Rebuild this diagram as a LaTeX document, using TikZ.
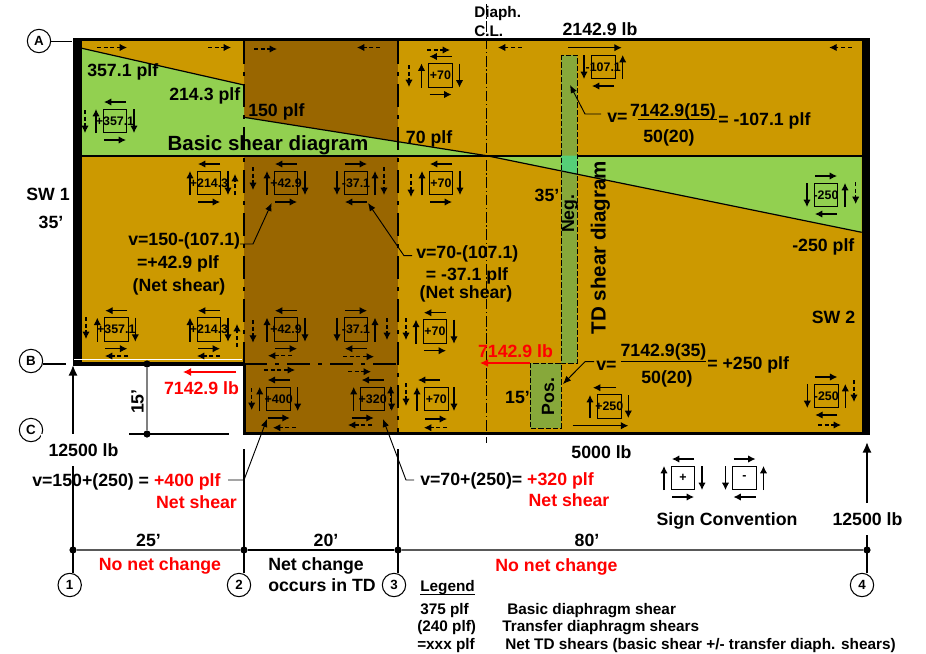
\documentclass[tikz,border=0pt]{standalone}
\usepackage{fontspec}
\setmainfont{Liberation Sans}
\usetikzlibrary{arrows.meta}

\definecolor{gold}{HTML}{CC9900}
\definecolor{brownTD}{HTML}{996600}
\definecolor{greenV}{HTML}{92D050}
\definecolor{colGold}{HTML}{87A83A}
\definecolor{colGreen}{HTML}{55CF78}
\definecolor{redT}{HTML}{FF0000}

\tikzset{
	lbl/.style={font=\fontsize{13.3}{15}\selectfont\bfseries, inner sep=0pt, anchor=mid, yshift=-2pt},
	lblbig/.style={lbl, font=\fontsize{15.4}{17}\selectfont\bfseries},
	lblsmall/.style={lbl, font=\fontsize{11.5}{13}\selectfont\bfseries},
	redlbl/.style={lbl, text=redT},
	gridcirc/.style={circle, draw, line width=0.8pt, fill=white, minimum size=17.5pt, inner sep=0pt, font=\fontsize{10}{11}\selectfont\bfseries},
	griddot/.style={circle, fill=black, minimum size=5.4pt, inner sep=0pt},
	gridline/.style={line width=1.5pt},
	elbox/.style={draw, line width=0.75pt, minimum size=17.6pt, inner sep=0pt},
	ellbl/.style={font=\fontsize{9.3}{10}\selectfont\bfseries, inner sep=0pt},
	shr/.style={-{Latex[length=5.5pt, width=5.5pt]}, line width=0.8pt},
	trf/.style={shr, dash pattern=on 3pt off 2pt},
	leadarr/.style={-{Latex[length=6pt, width=5pt]}, line width=0.7pt},
	tdline/.style={line width=2.2pt, dash pattern=on 17pt off 6.25pt on 2.75pt off 6.25pt},
	clline/.style={line width=0.6pt, dash pattern=on 8pt off 2pt on 1pt off 2pt},
	coldash/.style={line width=0.7pt, dash pattern=on 4pt off 1.5pt}
}

\newcommand{\pluselem}[5][0]{
	\node [elbox] (#2) at (#3,#4) {};
	\node [ellbl] (#2t) at (#3,#4) {#5};
	\draw [shr]	(#3+11,#4-19) to (#3-11,#4-19);
	\draw [shr]	(#3-11+#1,#4+19) to (#3+11+#1,#4+19);
	\draw [shr]	(#3-19,#4+12) to (#3-19,#4-12);
	\draw [shr]	(#3+19,#4-12) to (#3+19,#4+12);
}
\newcommand{\minuselem}[4]{
	\node [elbox] (#1) at (#2,#3) {};
	\node [ellbl] (#1t) at (#2,#3) {#4};
	\draw [shr]	(#2-11,#3-19) to (#2+11,#3-19);
	\draw [shr]	(#2+11,#3+19) to (#2-11,#3+19);
	\draw [shr]	(#2-19,#3-12) to (#2-19,#3+12);
	\draw [shr]	(#2+19,#3+12) to (#2+19,#3-12);
}

\begin{document}
\begin{tikzpicture}[x=0.75pt, y=-0.75pt]
		\useasboundingbox (0, 0) rectangle (926, 654);

		% floor areas
		\fill [gold]	(82, 41) rectangle (244, 363);
		\fill [gold]	(398, 41) rectangle (862, 432);
		\fill [brownTD]	(244, 41) rectangle (398, 432);

		% basic shear diagram
		\fill [greenV]	(82, 48.3) -- (244, 85) -- (244, 155.7) -- (82, 155.7) -- cycle;
		\fill [greenV]	(244, 117.3) -- (398, 141.7) -- (486.7, 155.7) -- (244, 155.7) -- cycle;
		\fill [greenV]	(486.7, 155.7) -- (861.7, 232.3) -- (861.7, 155.7) -- cycle;
		\draw [line width=1.3pt]	(82, 155.7) to (862, 155.7);

		% TD shear diagram
		\fill [colGold]	(561, 55) rectangle (577, 363);
		\fill [colGreen]	(561, 155.7) -- (577, 155.7) -- (577, 174) -- (561, 170.8) -- cycle;
		\fill [colGold]	(530, 363) rectangle (561, 428);
		\draw [coldash]	(561, 55) rectangle (577, 363);
		\draw [coldash]	(530, 363) rectangle (561, 428);

		\draw [line width=0.9pt]	(82, 48.3) to (244, 85);
		\draw [line width=0.9pt]	(244, 117.3) to (398, 141.7) to (486.7, 155.7) to (861.7, 232.3);

		% walls and edges
		\fill	(73, 38) rectangle (870, 41);
		\fill	(73, 38) rectangle (82, 366);
		\fill	(862, 38) rectangle (870, 435);
		\fill	(243, 432) rectangle (870, 435);
		\fill	(73, 362) rectangle (244, 366);
		\fill	(243, 364) rectangle (245.5, 435);
		\draw [white, line width=0.7pt]	(74, 359.3) to (242, 359.3);
		\draw [tdline]	(244, 41) to (244, 364);
		\draw [tdline]	(398, 41) to (398, 432);
		\draw [tdline]	(244, 364) to (398, 364);
		\draw [clline]	(486.7, 4) to (486.7, 443);

		% line A, B, C bubbles
		\node [gridcirc] (lblA) at (39, 41) {A};
		\node [gridcirc] (lblB) at (31, 361) {B};
		\node [gridcirc] (lblC) at (31, 430) {C};
		\coordinate (endA) at (72, 41);
		\coordinate (endB) at (66, 364);
		\draw [line width=0.7pt]	(lblA) to (endA);
		\draw [line width=1.2pt]	(lblB.east |- endB) to (endB);

		% 15 ft dimension
		\node [griddot] (dimB) at (147, 364) {};
		\node [griddot] (dimC) at (147, 434) {};
		\coordinate (lineCa) at (129, 434);
		\coordinate (lineCb) at (229, 434);
		\draw [gray, line width=1pt]	(dimB) to (dimC);
		\draw [line width=1.5pt]	(lineCa) to (lineCb);
		\node [lbl, rotate=90] (dimFt) at (140, 399) {15’};

		% grid lines
		\node [griddot] (dotOne) at (73, 550) {};
		\node [griddot] (dotTwo) at (244, 550) {};
		\node [griddot] (dotThree) at (398, 550) {};
		\node [griddot] (dotFour) at (867, 550) {};
		\coordinate (oneTop) at (73, 365);
		\coordinate (oneEnd) at (73, 573);
		\coordinate (twoTop) at (244, 449);
		\coordinate (twoEnd) at (244, 573);
		\coordinate (threeTop) at (398, 449);
		\coordinate (threeEnd) at (398, 573);
		\coordinate (fourTop) at (867, 535);
		\coordinate (fourEnd) at (867, 573);
		\coordinate (reacTail) at (867, 503);
		\coordinate (reacTip) at (867, 442);
		\draw [gridline, -{Latex[length=8pt, width=7pt]}]	(oneEnd) to (oneTop);
		\draw [gridline]	(twoTop) to (twoEnd);
		\draw [gridline]	(threeTop) to (threeEnd);
		\draw [gridline]	(fourTop) to (fourEnd);
		\draw [gridline, -{Latex[length=8pt, width=7pt]}]	(reacTail) to (reacTip);
		\draw [gray!70!black, line width=0.8pt]	(dotOne) to (dotTwo);
		\draw [line width=1.5pt]	(dotTwo) to (dotThree);
		\draw [gray!70!black, line width=0.8pt]	(dotThree) to (dotFour);
		\node [gridcirc] (gridOne) at (69.7, 585) {1};
		\node [gridcirc] (gridTwo) at (239, 585) {2};
		\node [gridcirc] (gridThree) at (394, 585) {3};
		\node [gridcirc] (gridFour) at (862, 585) {4};

		% shear elements, top row
		\draw [trf]	(97, 47.5) to (127, 47.5);
		\draw [trf]	(208, 47.5) to (231, 47.5);
		\draw [trf]	(254, 49) to (277, 49);
		\draw [trf]	(380, 47.5) to (357, 47.5);
		\draw [trf]	(427, 50) to (450, 50);
		\draw [trf]	(521.7, 47.5) to (498, 47.5);
		\draw [trf]	(851.7, 47.5) to (829.3, 47.5);
		\draw [shr]	(568, 47.7) to (621.7, 47.7);
		\pluselem{elA}{115}{121}{+357.1}
		\draw [trf]	(85, 110) to (85, 133);
		\pluselem{elB}{440.5}{75.5}{+70}
		\draw [trf]	(409, 65) to (409, 87);
		\node [elbox] (elC) at (603.3, 67) {};
		\node [ellbl] (elCt) at (603.3, 67) {-107.1};
		\draw [shr]	(584, 55) to (584, 79);
		\draw [shr]	(622.7, 79) to (622.7, 55);
		\draw [shr]	(614, 86) to (592, 86);

		% shear elements, middle row
		\pluselem{elD}{209}{183}{+214.3}
		\draw [trf]	(235, 195) to (235, 174);
		\pluselem{elE}{286}{183}{+42.9}
		\draw [trf]	(253, 167) to (253, 190);
		\minuselem{elF}{356}{183}{-37.1}
		\draw [trf]	(384, 167) to (384, 195);
		\pluselem{elG}{441}{183}{+70}
		\draw [trf]	(411, 174) to (411, 197);
		\minuselem{elH}{826}{195}{-250}
		\draw [trf]	(855.7, 182) to (855.7, 204);

		% shear elements, row above line B
		\pluselem{elJ}{116.3}{329.7}{+357.1}
		\draw [trf]	(86, 317) to (86, 339);
		\draw [trf]	(128, 356) to (105, 356);
		\pluselem{elK}{209}{329.7}{+214.3}
		\draw [trf]	(237, 346.7) to (237, 324);
		\draw [trf]	(220, 356) to (197, 356);
		\pluselem{elL}{286}{329.7}{+42.9}
		\draw [trf]	(253, 320) to (253, 342.7);
		\draw [trf]	(292, 355.7) to (268, 355.7);
		\minuselem{elM}{356}{329.7}{-37.1}
		\draw [trf]	(387, 318) to (387, 340);
		\draw [trf]	(343, 356.7) to (374, 356.7);
		\pluselem{elN}{435}{331.7}{+70}
		\draw [trf]	(406, 318) to (406, 340);

		% shear elements, row below line B
		\draw [trf]	(264, 370) to (295, 370);
		\draw [trf]	(348, 371.7) to (371, 371.7);
		\pluselem{elP}{278.7}{399}{+400}
		\draw [trf]	(251.7, 388) to (251.7, 410);
		\draw [trf]	(296, 427.7) to (273, 427.7);
		\pluselem[-10]{elQ}{372.7}{399}{+320}
		\draw [trf]	(390.7, 409) to (390.7, 386);
		\draw [trf]	(372, 425) to (348, 425);
		\node [elbox] (elR) at (436.3, 399) {};
		\node [ellbl] (elRt) at (436.3, 399) {+70};
		\draw [shr]	(440, 380) to (418, 380);
		\draw [shr]	(417, 411) to (417, 387);
		\draw [shr]	(454, 387) to (454, 411);
		\draw [shr]	(425, 419) to (447, 419);
		\draw [trf]	(406, 383) to (406, 406);
		\draw [trf]	(447, 427.7) to (424, 427.7);
		\node [elbox] (elS) at (609.3, 406.7) {};
		\node [ellbl] (elSt) at (609.3, 406.7) {+250};
		\draw [shr]	(616, 387.7) to (593, 387.7);
		\draw [shr]	(590, 418) to (590, 395);
		\draw [shr]	(628.3, 395) to (628.3, 418);
		\draw [shr]	(572.7, 425.7) to (628.3, 425.7);
		\minuselem{elT}{826.3}{396}{-250}
		\draw [trf]	(854, 380) to (854, 402);
		\draw [trf]	(818, 425) to (841, 425);

		% sign convention
		\pluselem{signP}{683}{478}{+}
		\minuselem{signM}{744.5}{478}{-}
		\node [lbl] (signT) at (727, 519) {Sign Convention};

		% labels on the floor
		\node [lbl, anchor=mid west] (vA) at (87, 70) {357.1 plf};
		\node [lbl, anchor=mid west] (vB) at (169, 94) {214.3 plf};
		\node [lbl, anchor=mid west] (vC) at (248, 110) {150 plf};
		\node [lbl, anchor=mid west] (vD) at (405.7, 137) {70 plf};
		\node [lbl, anchor=mid west] (vE) at (792, 245) {-250 plf};
		\node [lblbig] (basicT) at (268, 144) {Basic shear diagram};
		\node [lblbig, rotate=90] (tdT) at (602, 245) {TD shear diagram};
		\node [lbl] (swA) at (48, 194) {SW 1};
		\node [lbl] (ftA) at (51, 222) {35’};
		\node [lbl] (swB) at (833.5, 317) {SW 2};
		\node [lbl] (ftB) at (547, 195) {35’};
		\node [lbl] (ftC) at (517.5, 397) {15’};
		\node [lbl, rotate=90] (negT) at (570.7, 211) {Neg.};
		\node [lbl, rotate=90] (posT) at (550.7, 394) {Pos.};

		% notes with leaders
		\node [lbl, anchor=mid west] (noteA) at (128, 239) {v=150-(107.1)};
		\node [lbl] (noteAb) at (178, 262) {=+42.9 plf};
		\node [lbl] (noteAc) at (179, 285) {(Net shear)};
		\coordinate (ldA) at (240, 244);
		\coordinate (ldAk) at (253, 244);
		\coordinate (ldAt) at (271.7, 203);
		\draw [leadarr]	(ldA) to (ldAk) to (ldAt);

		\node [lbl, anchor=mid west] (noteB) at (416, 252.7) {v=70-(107.1)};
		\node [lbl] (noteBb) at (467, 274) {= -37.1 plf};
		\node [lbl] (noteBc) at (466, 292.7) {(Net shear)};
		\coordinate (ldB) at (412, 255.7);
		\coordinate (ldBk) at (404, 255.7);
		\coordinate (ldBt) at (368, 203);
		\draw [leadarr]	(ldB) to (ldBk) to (ldBt);

		\node [lbl, anchor=mid west] (noteC) at (32, 480) {v=150+(250) = \textcolor{redT}{+400 plf}};
		\node [redlbl] (noteCb) at (196.5, 502) {Net shear};
		\coordinate (ldC) at (228, 480);
		\coordinate (ldCk) at (244, 480);
		\coordinate (ldCt) at (267, 419);
		\draw [leadarr]	(ldC) to (ldCk) to (ldCt);

		\node [lbl, anchor=mid west] (noteD) at (420, 479) {v=70+(250)= \textcolor{redT}{+320 plf}};
		\node [redlbl] (noteDb) at (569, 500) {Net shear};
		\coordinate (ldD) at (414, 480);
		\coordinate (ldDk) at (406, 480);
		\coordinate (ldDt) at (383, 419);
		\draw [leadarr]	(ldD) to (ldDk) to (ldDt);

		% fractions
		\node [lbl, anchor=mid west] (fracA) at (607, 116) {v=};
		\node [lbl] (fracAn) at (673, 110) {7142.9(15)};
		\node [lbl] (fracAd) at (669, 136) {50(20)};
		\node [lbl, anchor=mid west] (fracAr) at (718, 119) {= -107.1 plf};
		\coordinate (barAa) at (638, 119.3);
		\coordinate (barAb) at (717, 119.3);
		\draw [line width=0.8pt]	(barAa) to (barAb);
		\coordinate (ldE) at (601, 114);
		\coordinate (ldEk) at (585, 114);
		\coordinate (ldEt) at (570, 85);
		\draw [leadarr]	(ldE) to (ldEk) to (ldEt);

		\node [lbl, anchor=mid west] (fracB) at (596, 364) {v=};
		\node [lbl] (fracBn) at (663.5, 350) {7142.9(35)};
		\node [lbl] (fracBd) at (667, 377) {50(20)};
		\node [lbl, anchor=mid west] (fracBr) at (707, 363) {= +250 plf};
		\coordinate (barBa) at (621, 361.7);
		\coordinate (barBb) at (706, 361.7);
		\draw [line width=0.8pt]	(barBa) to (barBb);
		\coordinate (ldF) at (594, 361.7);
		\coordinate (ldFk) at (585, 361.7);
		\coordinate (ldFt) at (563, 384);
		\draw [leadarr]	(ldF) to (ldFk) to (ldFt);

		% forces
		\coordinate (redAa) at (236, 372);
		\coordinate (redAb) at (183, 372);
		\coordinate (redBa) at (530, 363);
		\coordinate (redBb) at (480, 363);
		\draw [redT, line width=1pt, -{Latex[length=6pt, width=6pt]}]	(redAa) to (redAb);
		\draw [redT, line width=1.3pt, -{Latex[length=6pt, width=6pt]}]	(redBa) to (redBb);
		\node [redlbl] (redA) at (201.5, 388) {7142.9 lb};
		\node [redlbl] (redB) at (515.5, 351.7) {7142.9 lb};
		\node [lbl] (forceA) at (600, 29) {2142.9 lb};
		\node [lbl] (forceB) at (601.5, 452) {5000 lb};
		\node [lbl, fill=white, inner xsep=6pt, minimum height=24pt] (reacA) at (83.5, 450) {12500 lb};
		\node [lbl] (reacB) at (867.5, 519) {12500 lb};

		\node [lblsmall, anchor=mid west] (clA) at (474, 11) {Diaph.};
		\node [lblsmall, anchor=mid west] (clB) at (474, 30) {C.L.};

		% dimensions
		\node [lbl] (spanA) at (148.5, 540) {25’};
		\node [lbl] (spanB) at (326, 540) {20’};
		\node [lbl] (spanC) at (587, 540) {80’};
		\node [redlbl] (chgA) at (160, 564) {No net change};
		\node [redlbl] (chgC) at (556.5, 565) {No net change};
		\node [lbl, anchor=mid west] (chgB) at (268, 564) {Net change};
		\node [lbl, anchor=mid west] (chgBb) at (268, 585.5) {occurs in TD};

		% legend
		\node [lblsmall, anchor=mid west] (legT) at (420, 585) {Legend};
		\draw [line width=0.9pt]	([yshift=-2.2pt]legT.base west) to ([yshift=-2.2pt]legT.base east);
		\node [lblsmall, anchor=mid west] (legA) at (420, 608) {375 plf};
		\node [lblsmall, anchor=mid west] (legAb) at (507, 608) {Basic diaphragm shear};
		\node [lblsmall, anchor=mid west] (legB) at (417, 625) {(240 plf)};
		\node [lblsmall, anchor=mid west] (legBb) at (502, 625) {Transfer diaphragm shears};
		\node [lblsmall, anchor=mid west] (legC) at (417, 643) {=xxx plf};
		\node [lblsmall, anchor=mid west] (legCb) at (505, 643) {Net TD shears (basic shear +/- transfer diaph. shears)};
\end{tikzpicture}
\end{document}
